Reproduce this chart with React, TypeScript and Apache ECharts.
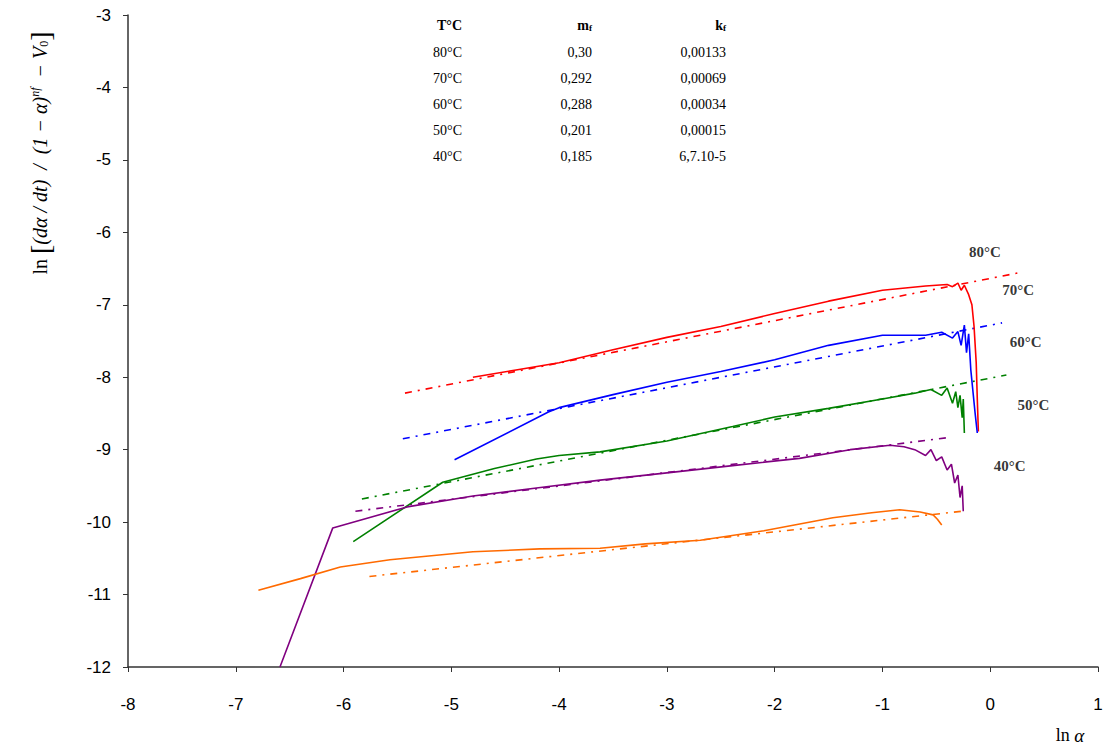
import React, { useEffect, useRef } from "react";
import * as echarts from "echarts";

// ---- data ----
const red80: number[][] = [
  [-4.8, -8.0], [-4.4, -7.9], [-4.0, -7.8], [-3.5, -7.62], [-3.0, -7.45], [-2.5, -7.3],
  [-2.0, -7.12], [-1.5, -6.95], [-1.0, -6.8], [-0.6, -6.74], [-0.4, -6.72], [-0.35, -6.75],
  [-0.3, -6.7], [-0.27, -6.8], [-0.24, -6.73], [-0.2, -6.86], [-0.17, -7.0], [-0.15, -7.3],
  [-0.13, -7.8], [-0.12, -8.3], [-0.11, -8.75],
];
const red80Fit: number[][] = [[-5.43, -8.22], [0.26, -6.56]];

const blue70: number[][] = [
  [-4.97, -9.14], [-4.1, -8.48], [-4.0, -8.42], [-3.5, -8.24], [-3.0, -8.07], [-2.5, -7.92],
  [-2.0, -7.76], [-1.5, -7.56], [-1.0, -7.42], [-0.6, -7.42], [-0.45, -7.38], [-0.35, -7.46],
  [-0.3, -7.37], [-0.27, -7.56], [-0.24, -7.28], [-0.22, -7.66], [-0.2, -7.4], [-0.18, -7.9],
  [-0.16, -8.2], [-0.14, -8.5], [-0.12, -8.77],
];
const blue70Fit: number[][] = [[-5.45, -8.85], [0.11, -7.25]];

const green60: number[][] = [
  [-5.91, -10.27], [-5.08, -9.45], [-4.6, -9.26], [-4.21, -9.13], [-4.0, -9.08], [-3.62, -9.03],
  [-3.0, -8.88], [-2.39, -8.68], [-2.0, -8.55], [-1.5, -8.43], [-1.0, -8.3], [-0.7, -8.22],
  [-0.55, -8.17], [-0.45, -8.25], [-0.4, -8.15], [-0.35, -8.36], [-0.32, -8.2], [-0.3, -8.42],
  [-0.28, -8.25], [-0.26, -8.56], [-0.25, -8.3], [-0.24, -8.77],
];
const green60Fit: number[][] = [[-5.83, -9.68], [0.15, -7.97]];

const purple50: number[][] = [
  [-6.59, -12.0], [-6.1, -10.08], [-5.41, -9.79], [-4.8, -9.64], [-4.21, -9.53], [-3.62, -9.42],
  [-3.0, -9.32], [-2.39, -9.22], [-1.77, -9.12], [-1.3, -9.0], [-0.93, -8.94], [-0.8, -8.96],
  [-0.7, -9.0], [-0.6, -9.08], [-0.55, -9.0], [-0.5, -9.15], [-0.45, -9.1], [-0.4, -9.28],
  [-0.36, -9.2], [-0.33, -9.46], [-0.3, -9.35], [-0.28, -9.66], [-0.26, -9.5], [-0.25, -9.85],
];
const purple50Fit: number[][] = [[-5.89, -9.85], [-0.37, -8.83]];

const orange40: number[][] = [
  [-6.79, -10.94], [-6.4, -10.78], [-6.03, -10.62], [-5.57, -10.52], [-4.8, -10.41],
  [-4.18, -10.37], [-3.62, -10.36], [-3.2, -10.3], [-2.69, -10.25], [-2.1, -10.12],
  [-1.46, -9.94], [-1.1, -9.87], [-0.84, -9.83], [-0.65, -9.86], [-0.53, -9.9], [-0.49, -9.96],
  [-0.45, -10.04],
];
const orange40Fit: number[][] = [[-5.76, -10.75], [-0.26, -9.85]];

const curveLabels = ["80°C", "70°C", "60°C", "50°C", "40°C"];
const curveLabelPos: number[][] = [[-0.05, -6.27], [0.26, -6.8], [0.33, -7.51], [0.4, -8.38], [0.18, -9.23]];

const tableTemps = ["80°C", "70°C", "60°C", "50°C", "40°C"];
const tableM = ["0,30", "0,292", "0,288", "0,201", "0,185"];
const tableK = ["0,00133", "0,00069", "0,00034", "0,00015", "6,7.10-5"];

const xTicks = { min: -8, max: 1, interval: 1 };
const yTicks = { min: -12, max: -3, interval: 1 };

const COLORS = { red: "#ff0000", blue: "#0000ff", green: "#008000", purple: "#800080", orange: "#ff6a00" };

export default function App() {
  const ref = useRef<HTMLDivElement>(null);
  useEffect(() => {
    document.body.style.margin = "0";
    const chart = echarts.init(ref.current!, undefined, { renderer: "svg" });

    const solid = (data: number[][], color: string) => ({
      type: "line", data, showSymbol: false, symbol: "none", clip: true,
      lineStyle: { color, width: 1.6 }, z: 3,
    });
    const fit = (data: number[][], color: string) => ({
      type: "line", data, showSymbol: false, symbol: "none",
      lineStyle: { color, width: 1.6, type: [7, 6, 2, 6] }, z: 2,
    });

    const serif = "'Liberation Serif', 'DejaVu Serif', serif";
    const tableTop = 25;
    const rowH = 25.8;
    const graphics: any[] = [
      { type: "text", x: 462, y: tableTop, style: { text: "T°C", font: `bold 14px ${serif}`, fill: "#000", align: "right", verticalAlign: "middle" } },
      { type: "text", x: 592, y: tableTop, style: { text: "{a|m}{s|f}", rich: { a: { font: `bold 14px ${serif}`, fill: "#000" }, s: { font: `bold 9px ${serif}`, fill: "#000", padding: [6, 0, 0, 0] } }, align: "right", verticalAlign: "middle" } },
      { type: "text", x: 726, y: tableTop, style: { text: "{a|k}{s|f}", rich: { a: { font: `bold 14px ${serif}`, fill: "#000" }, s: { font: `bold 9px ${serif}`, fill: "#000", padding: [6, 0, 0, 0] } }, align: "right", verticalAlign: "middle" } },
    ];
    tableTemps.forEach((t, i) => {
      const y = tableTop + rowH * (i + 1) + 2;
      graphics.push({ type: "text", x: 462, y, style: { text: t, font: `14px ${serif}`, fill: "#000", align: "right", verticalAlign: "middle" } });
      graphics.push({ type: "text", x: 592, y, style: { text: tableM[i], font: `14px ${serif}`, fill: "#000", align: "right", verticalAlign: "middle" } });
      graphics.push({ type: "text", x: 726, y, style: { text: tableK[i], font: `14px ${serif}`, fill: "#000", align: "right", verticalAlign: "middle" } });
    });
    graphics.push({
      type: "text", x: 40, y: 153, rotation: Math.PI / 2,
      style: {
        text: "{n|ln }{b|[}{i|(dα / dt)  /  (1 − α)}{s|nf}{i|  − V}{u|0}{b|]}",
        rich: {
          n: { font: `20px ${serif}`, fill: "#000" },
          b: { font: `28px ${serif}`, fill: "#000" },
          i: { font: `italic 20px ${serif}`, fill: "#000" },
          s: { font: `italic 12px ${serif}`, fill: "#000", padding: [0, 0, 10, 0] },
          u: { font: `12px ${serif}`, fill: "#000", padding: [8, 0, 0, 0] },
        },
        align: "center", verticalAlign: "middle",
      },
    });
    graphics.push({
      type: "text", x: 1070, y: 735,
      style: {
        text: "{n|ln }{i|α}",
        rich: { n: { font: `18px ${serif}`, fill: "#000" }, i: { font: `italic 19px ${serif}`, fill: "#000" } },
        align: "center", verticalAlign: "middle",
      },
    });

    chart.setOption({
      animation: false,
      backgroundColor: "#fff",
      grid: { left: 128, right: 10, top: 15, bottom: 79, containLabel: false },
      xAxis: {
        type: "value", min: xTicks.min, max: xTicks.max, interval: xTicks.interval,
        axisLine: { show: true, onZero: false, lineStyle: { color: "#333", width: 1.5 } },
        axisTick: { show: true, inside: false, length: 5, lineStyle: { color: "#333" } },
        axisLabel: { color: "#000", fontFamily: "'Liberation Sans', Arial, sans-serif", fontSize: 17, margin: 29 },
        splitLine: { show: false },
      },
      yAxis: {
        type: "value", min: yTicks.min, max: yTicks.max, interval: yTicks.interval,
        axisLine: { show: true, onZero: false, lineStyle: { color: "#333", width: 1.5 } },
        axisTick: { show: true, inside: false, length: 5, lineStyle: { color: "#333" } },
        axisLabel: { color: "#000", fontFamily: "'Liberation Sans', Arial, sans-serif", fontSize: 17, margin: 17 },
        splitLine: { show: false },
      },
      series: [
        fit(red80Fit, COLORS.red), solid(red80, COLORS.red),
        fit(blue70Fit, COLORS.blue), solid(blue70, COLORS.blue),
        fit(green60Fit, COLORS.green), solid(green60, COLORS.green),
        fit(purple50Fit, COLORS.purple), solid(purple50, COLORS.purple),
        fit(orange40Fit, COLORS.orange), solid(orange40, COLORS.orange),
        {
          type: "scatter", symbolSize: 0, z: 5,
          data: curveLabelPos.map((p, i) => ({ value: p, name: curveLabels[i] })),
          label: {
            show: true, position: "inside", formatter: (p: any) => p.name,
            color: "#000", fontFamily: serif, fontWeight: "bold", fontSize: 15,
          },
        },
      ],
      graphic: graphics,
    });
    return () => chart.dispose();
  }, []);
  return <div ref={ref} style={{ width: 1108, height: 746 }} />;
}
